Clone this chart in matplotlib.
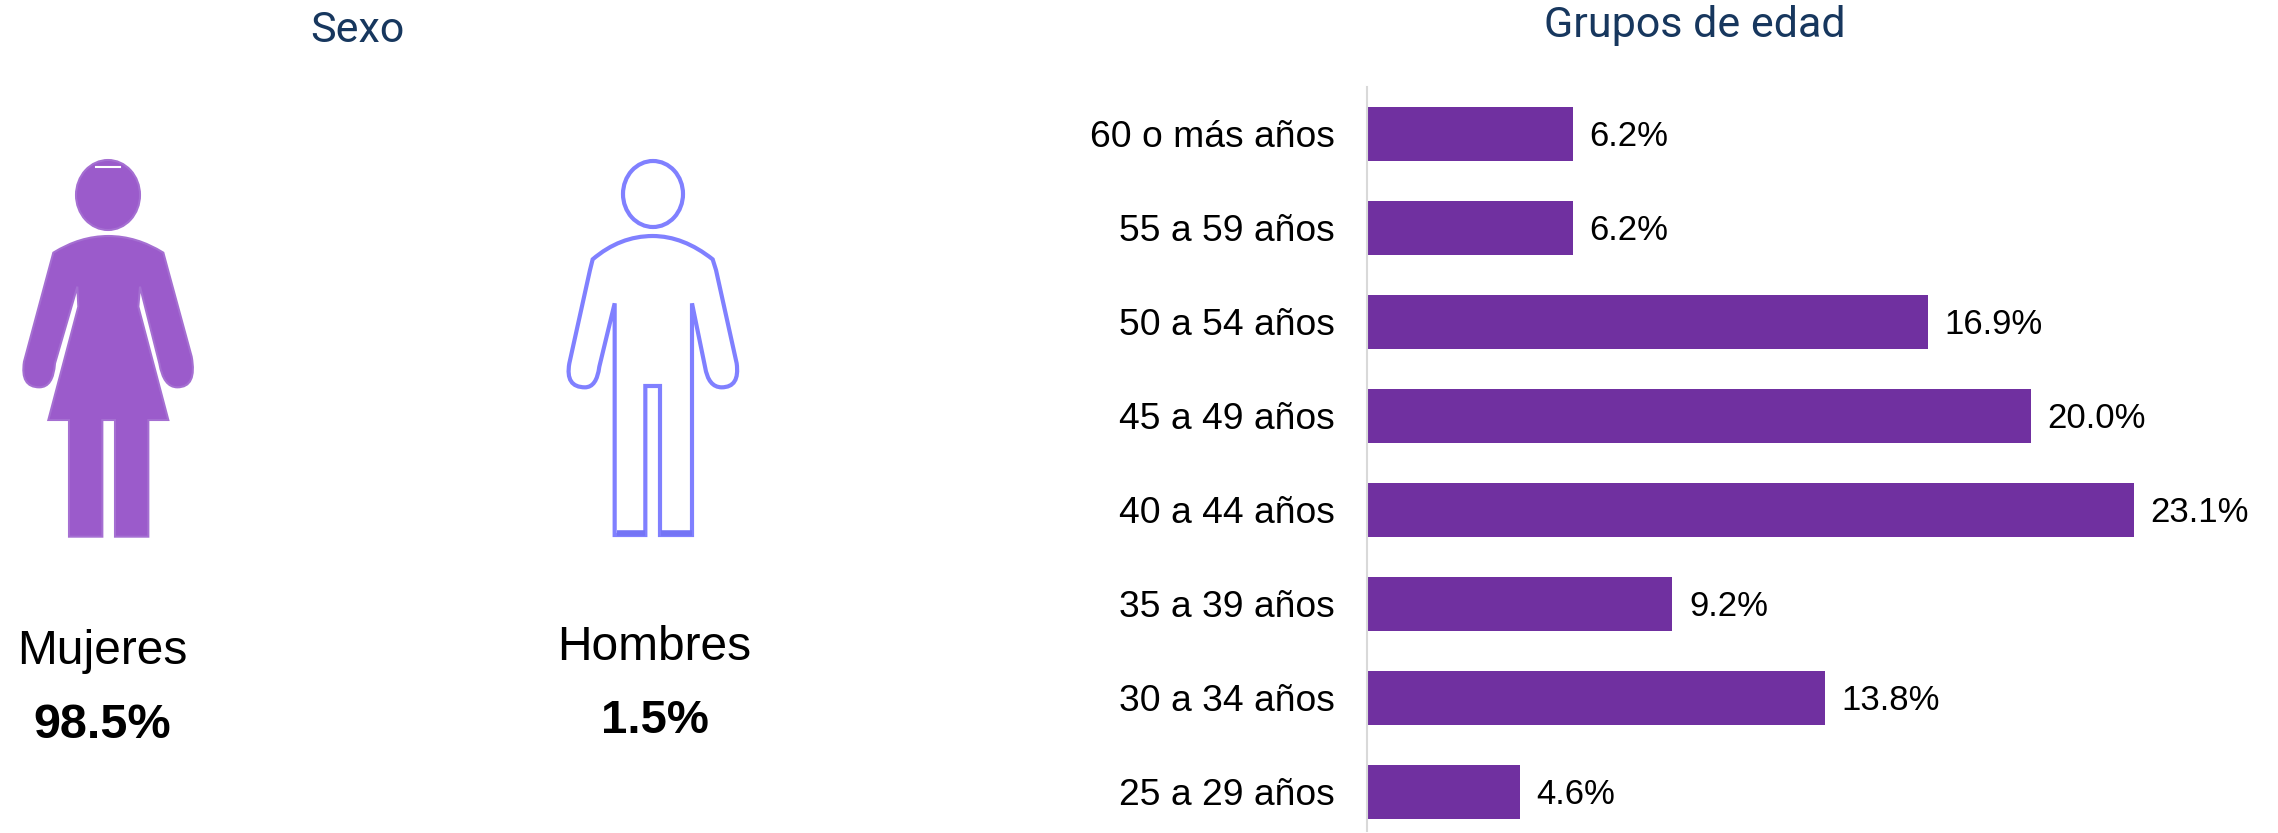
import matplotlib
matplotlib.use('Agg')
import matplotlib.pyplot as plt
from matplotlib.path import Path
from matplotlib.patches import PathPatch, Ellipse

W, H = 2278, 833

# data
age_groups = ['25 a 29 años', '30 a 34 años', '35 a 39 años', '40 a 44 años',
              '45 a 49 años', '50 a 54 años', '55 a 59 años', '60 o más años']
age_values = [4.6, 13.8, 9.2, 23.1, 20.0, 16.9, 6.2, 6.2]
sex_labels = ['Mujeres', 'Hombres']
sex_values = [98.5, 1.5]

purple = '#7030A0'
navy = '#17375E'
woman_fill = '#9B5BCB'
man_line = '#8080FF'

fig = plt.figure(figsize=(W / 100, H / 100), dpi=100, facecolor='white')

# overlay in pixel coords for titles and the two icons
bg = fig.add_axes([0, 0, 1, 1])
bg.set_xlim(0, W)
bg.set_ylim(H, 0)
bg.axis('off')


def icon(pts, x0, y0, **kw):
    verts = [(x0 + x / 3, y0 + y / 3) for _, x, y in pts]
    codes = [c for c, _, _ in pts]
    bg.add_patch(PathPatch(Path(verts, codes), **kw))


M, L, C, Z = Path.MOVETO, Path.LINETO, Path.CURVE3, Path.CLOSEPOLY

woman = [
    (M, 325, 318), (C, 410, 318), (C, 490, 368), (L, 500, 405), (L, 575, 680),
    (C, 592, 772), (C, 532, 772), (C, 490, 772), (C, 478, 700),
    (L, 420, 470), (L, 415, 530), (L, 505, 870), (L, 445, 870), (L, 445, 1220),
    (L, 345, 1220), (L, 345, 870), (L, 307, 870), (L, 307, 1220), (L, 207, 1220),
    (L, 207, 870), (L, 145, 870), (L, 235, 530), (L, 232, 470), (L, 165, 700),
    (C, 160, 772), (C, 118, 772), (C, 60, 772), (C, 72, 695),
    (L, 150, 405), (L, 160, 368), (C, 240, 318), (C, 325, 318), (Z, 325, 318),
]
icon(woman, 0, 130, facecolor=woman_fill, edgecolor='#A56FD2', lw=1.5)
bg.add_patch(Ellipse((108, 195), 64, 70, facecolor=woman_fill, edgecolor='#A56FD2', lw=1.5))
bg.plot([96, 120], [166.5, 166.5], color='white', lw=1.5)

man = [
    (M, 338, 318), (C, 430, 318), (C, 518, 388), (L, 528, 420), (L, 590, 700),
    (C, 600, 772), (C, 545, 772), (C, 505, 772), (C, 495, 710),
    (L, 456, 520), (L, 456, 1215), (L, 360, 1215), (L, 360, 768), (L, 316, 768),
    (L, 316, 1215), (L, 224, 1215), (L, 224, 520), (L, 178, 710),
    (C, 170, 772), (C, 135, 772), (C, 75, 772), (C, 88, 700),
    (L, 150, 420), (L, 158, 388), (C, 240, 318), (C, 338, 318), (Z, 338, 318),
]
icon(man, 540, 130, facecolor='white', edgecolor=man_line, lw=3)
bg.add_patch(Ellipse((653, 194), 60, 66, facecolor='white', edgecolor=man_line, lw=3))
bg.plot([617, 645], [533, 533], color='#7474F5', lw=4, solid_capstyle='butt')
bg.plot([661, 692], [533, 533], color='#7474F5', lw=4, solid_capstyle='butt')

bg.text(357, 30, 'Sexo', color=navy, fontsize=31, family='Roboto', ha='center', va='center')
bg.text(1695, 25, 'Grupos de edad', color=navy, fontsize=31, family='Roboto', ha='center', va='center')

bg.text(102, 652, sex_labels[0], fontsize=34.5, family='Liberation Sans', ha='center', va='center')
bg.text(102, 726, f'{sex_values[0]}%', fontsize=35, fontweight='bold', family='Liberation Sans', ha='center', va='center')
bg.text(654, 647, sex_labels[1], fontsize=34.5, family='Liberation Sans', ha='center', va='center')
bg.text(655, 721, f'{sex_values[1]}%', fontsize=34, fontweight='bold', family='Liberation Sans', ha='center', va='center')

# bar chart, axes placed so one category step is about 94 px
ax = fig.add_axes([1367 / W, 1 - 831 / H, (2250 - 1367) / W, (831 - 87) / H])
ax.set_facecolor('none')
y = list(range(len(age_groups)))
bars = ax.barh(y, age_values, height=0.565, color=purple)
ax.set_xlim(0, 883 / 33.2)
ax.set_ylim(-0.415, 7.5)
ax.set_xticks([])
ax.set_yticks(y, age_groups, family='Liberation Sans', fontsize=26.8)
ax.tick_params(axis='y', length=0, pad=23)
for s in ['top', 'right', 'bottom']:
    ax.spines[s].set_visible(False)
ax.spines['left'].set_color('#D9D9D9')
ax.spines['left'].set_linewidth(1.5)
for yi, v in zip(y, age_values):
    ax.annotate(f'{v:.1f}%', (v, yi), xytext=(12, -2), textcoords='offset points',
                va='center', family='Liberation Sans', fontsize=25)

fig.savefig('out.png', dpi=100)
